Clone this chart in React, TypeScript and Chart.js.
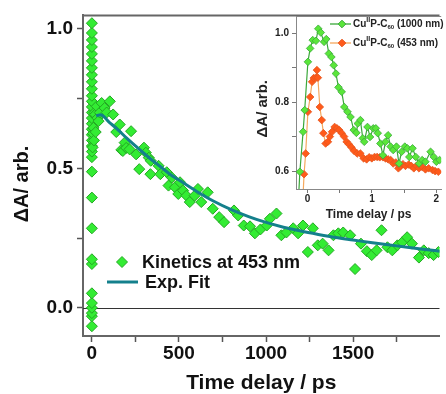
import React, { useEffect, useRef } from 'react';
import { Chart, registerables } from 'chart.js';

Chart.register(...registerables);

const FONT = '"Liberation Sans", Arial, Helvetica, sans-serif';

// ---------- main panel: kinetics at 453 nm ----------
const kineticsTime = [
  0, 0, 0, 0, 0, 0, 0, 0, 0, 0, 0, 0, 0, 0, 0, 0, 0, 0, 0, 0, 0, 0, 0, 0, 0, 0, 0, 0, 0, 0, 0, 0, 0,
  4, 6, 9, 12, 15, 19, 22, 28, 32, 38, 45, 56, 73, 85, 103, 122, 140, 160, 169, 178, 188, 197, 216,
  225, 254, 272, 299, 310, 327, 338, 336, 383, 393, 430, 440, 459, 477, 496, 506, 524, 543, 562,
  590, 609, 628, 665, 694, 731, 759, 816, 840, 872, 908, 936, 968, 1004, 1022, 1060, 1088, 1117,
  1156, 1184, 1212, 1240, 1269, 1297, 1325, 1359, 1387, 1415, 1443, 1483, 1511, 1545, 1579, 1607,
  1635, 1663, 1697, 1725, 1754, 1782, 1810, 1838, 1878, 1906, 1934, 1962, 1990,
];
const kineticsValue = [
  -0.066, -0.03, -0.019, 0.0, 0.017, 0.052, 0.157, 0.174, 0.285, 0.395, 0.488, 0.54, 0.56, 0.58,
  0.6, 0.62, 0.64, 0.66, 0.68, 0.7, 0.72, 0.74, 0.76, 0.785, 0.81, 0.835, 0.86, 0.885, 0.91, 0.935,
  0.96, 0.985, 1.02,
  0.575, 0.625, 0.645, 0.6, 0.7, 0.693, 0.63, 0.722, 0.68, 0.669, 0.7, 0.734, 0.716, 0.7, 0.74,
  0.693, 0.63, 0.657, 0.566, 0.562, 0.592, 0.573, 0.568, 0.633, 0.55, 0.497, 0.574, 0.556, 0.538,
  0.527, 0.479, 0.509, 0.479, 0.486, 0.438, 0.467, 0.432, 0.408, 0.45, 0.42, 0.402, 0.379, 0.402,
  0.426, 0.379, 0.414, 0.355, 0.325, 0.307, 0.349, 0.331, 0.295, 0.292, 0.267, 0.281, 0.295, 0.319,
  0.338, 0.26, 0.27, 0.285, 0.267, 0.295, 0.2, 0.285, 0.224, 0.23, 0.206, 0.26, 0.267, 0.27, 0.26,
  0.139, 0.23, 0.203, 0.189, 0.206, 0.278, 0.217, 0.206, 0.224, 0.235, 0.253, 0.23, 0.18, 0.206,
  0.196, 0.189, 0.2,
];
const fitTime = [25, 50, 100, 150, 200, 250, 300, 350, 400, 450, 500, 600, 700, 800, 900, 1000, 1100, 1200, 1300, 1400, 1500, 1600, 1700, 1800, 1900, 2000];
const fitValue = [0.688, 0.692, 0.665, 0.638, 0.608, 0.58, 0.553, 0.527, 0.503, 0.478, 0.458, 0.418, 0.382, 0.352, 0.327, 0.306, 0.289, 0.275, 0.263, 0.252, 0.243, 0.234, 0.226, 0.218, 0.21, 0.203];

const mainXTicks = [0, 250, 500, 750, 1000, 1250, 1500, 1750];
const mainXLabels = ['0', '', '500', '', '1000', '', '1500', ''];
const mainYTicks = [0, 0.25, 0.5, 0.75, 1.0];
const mainYLabels = ['0.0', '', '0.5', '', '1.0'];
const mainLegendLabels = ['Kinetics at 453 nm', 'Exp. Fit'];
const mainXTitle = 'Time delay / ps';
const mainYTitle = 'ΔA/ arb.   ';

// ---------- inset: early-time kinetics ----------
const insetTime1000 = [
  -0.16, -0.12, -0.07, -0.045, 0.005, 0.04, 0.08, 0.13, 0.166, 0.205, 0.256, 0.29, 0.33, 0.37, 0.406,
  0.44, 0.48, 0.53, 0.57, 0.62, 0.667, 0.717, 0.757, 0.78, 0.82, 0.857, 0.88, 0.93, 0.97, 1.02, 1.06,
  1.09, 1.13, 1.17, 1.21, 1.25, 1.29, 1.33, 1.38, 1.42, 1.46, 1.51, 1.55, 1.58, 1.63, 1.68, 1.73, 1.78,
  1.83, 1.91, 1.96, 2.0, 2.05,
];
const insetValue1000 = [
  0.45, 0.598, 0.714, 0.777, 0.917, 0.956, 0.98, 0.978, 1.013, 1.002, 0.975, 0.983, 0.941, 0.931,
  0.907, 0.883, 0.843, 0.83, 0.786, 0.772, 0.757, 0.719, 0.711, 0.738, 0.748, 0.695, 0.685, 0.728,
  0.699, 0.724, 0.724, 0.71, 0.68, 0.646, 0.685, 0.704, 0.671, 0.661, 0.671, 0.622, 0.656, 0.671,
  0.666, 0.641, 0.666, 0.641, 0.622, 0.632, 0.627, 0.656, 0.641, 0.627, 0.632,
];
const insetTime453 = [
  -0.09, -0.055, -0.03, 0.005, 0.04, 0.07, 0.095, 0.13, 0.145, 0.16, 0.19, 0.22, 0.245, 0.28, 0.316,
  0.346, 0.38, 0.42, 0.456, 0.49, 0.53, 0.567, 0.606, 0.64, 0.68, 0.72, 0.77, 0.82, 0.87, 0.917,
  0.957, 0.997, 1.04, 1.08, 1.12, 1.17, 1.21, 1.25, 1.29, 1.33, 1.37, 1.41, 1.44, 1.48, 1.52, 1.57,
  1.61, 1.65, 1.69, 1.73, 1.78, 1.83, 1.88, 1.94, 1.98, 2.03,
];
const insetValue453 = [
  0.45, 0.591, 0.651, 0.772, 0.815, 0.859, 0.87, 0.871, 0.893, 0.871, 0.786, 0.748, 0.71, 0.68,
  0.685, 0.7, 0.714, 0.728, 0.724, 0.719, 0.71, 0.7, 0.685, 0.678, 0.669, 0.659, 0.651, 0.651,
  0.637, 0.634, 0.64, 0.637, 0.641, 0.641, 0.64, 0.64, 0.637, 0.634, 0.632, 0.622, 0.625, 0.608,
  0.614, 0.62, 0.615, 0.619, 0.615, 0.608, 0.615, 0.608, 0.612, 0.605, 0.608, 0.603, 0.6, 0.598,
];
const insetXTicks = [0, 0.5, 1, 1.5, 2];
const insetXLabels = ['0', '', '1', '', '2'];
const insetYTicks = [0.6, 0.7, 0.8, 0.9, 1.0];
const insetYLabels = ['0.6', '', '0.8', '', '1.0'];
const insetXTitle = 'Time delay / ps';
const insetYTitle = 'ΔA/ arb.   ';
// legend label pieces: [text, kind] where kind: n = normal, sup = superscript, sub = subscript
const insetLegend1000: [string, string][] = [['Cu', 'n'], ['II', 'sup'], ['P-C', 'n'], ['60', 'sub'], [' (1000 nm)', 'n']];
const insetLegend453: [string, string][] = [['Cu', 'n'], ['II', 'sup'], ['P-C', 'n'], ['60', 'sub'], [' (453 nm)', 'n']];

const GREEN_FILL = '#33ec33';
const GREEN_EDGE = '#23a823';
const FIT_COLOR = '#14808c';

function zip(xs: number[], ys: number[]) {
  return xs.map((x, i) => ({ x, y: ys[i] }));
}

function diamond(ctx: CanvasRenderingContext2D, x: number, y: number, r: number, fill: string, stroke: string) {
  ctx.beginPath();
  ctx.moveTo(x - r, y);
  ctx.lineTo(x, y - r);
  ctx.lineTo(x + r, y);
  ctx.lineTo(x, y + r);
  ctx.closePath();
  ctx.fillStyle = fill;
  ctx.fill();
  ctx.lineWidth = 1;
  ctx.strokeStyle = stroke;
  ctx.stroke();
}

const mainDecor = {
  id: 'mainDecor',
  beforeDatasetsDraw(chart: any) {
    const { ctx, chartArea, scales } = chart;
    const y0 = Math.round(scales.y.getPixelForValue(0)) + 0.5;
    ctx.save();
    ctx.strokeStyle = '#333';
    ctx.lineWidth = 1;
    ctx.beginPath();
    ctx.moveTo(chartArea.left, y0);
    ctx.lineTo(chartArea.right, y0);
    ctx.stroke();
    ctx.restore();
  },
  afterDraw(chart: any) {
    const { ctx, chartArea } = chart;
    ctx.save();
    ctx.strokeStyle = '#666';
    ctx.lineWidth = 2;
    ctx.beginPath();
    ctx.moveTo(chartArea.left - 1, chartArea.top);
    ctx.lineTo(chartArea.right, chartArea.top);
    ctx.stroke();
    // legend
    const lx = chartArea.left;
    const by = chartArea.bottom;
    diamond(ctx, lx + 39, by - 74, 5.5, GREEN_FILL, GREEN_EDGE);
    ctx.fillStyle = '#111';
    ctx.font = `bold 18px ${FONT}`;
    ctx.textBaseline = 'middle';
    ctx.textAlign = 'left';
    ctx.fillText(mainLegendLabels[0], lx + 59, by - 73);
    ctx.strokeStyle = FIT_COLOR;
    ctx.lineWidth = 3;
    ctx.beginPath();
    ctx.moveTo(lx + 24, by - 54);
    ctx.lineTo(lx + 55, by - 54);
    ctx.stroke();
    ctx.fillText(mainLegendLabels[1], lx + 62, by - 53);
    ctx.restore();
  },
};

function drawRich(ctx: CanvasRenderingContext2D, parts: [string, string][], x: number, y: number) {
  let cx = x;
  for (const [t, kind] of parts) {
    if (kind === 'sup') {
      ctx.font = `bold 7px ${FONT}`;
      ctx.fillText(t, cx, y - 4);
    } else if (kind === 'sub') {
      ctx.font = `bold 6px ${FONT}`;
      ctx.fillText(t, cx, y + 3);
    } else {
      ctx.font = `bold 10px ${FONT}`;
      ctx.fillText(t, cx, y);
    }
    cx += ctx.measureText(t).width;
  }
}

const insetDecor = {
  id: 'insetDecor',
  afterDraw(chart: any) {
    const { ctx, chartArea } = chart;
    ctx.save();
    ctx.strokeStyle = '#888';
    ctx.lineWidth = 1;
    ctx.beginPath();
    ctx.moveTo(chartArea.left, chartArea.top + 0.5);
    ctx.lineTo(chartArea.right, chartArea.top + 0.5);
    ctx.stroke();
    const ds = chart.data.datasets;
    const rows = [insetLegend1000, insetLegend453];
    rows.forEach((parts, i) => {
      const y = chartArea.top + 8 + i * 19;
      const x0 = chartArea.left + 34;
      ctx.strokeStyle = ds[i].borderColor;
      ctx.lineWidth = 1.3;
      ctx.beginPath();
      ctx.moveTo(x0, y);
      ctx.lineTo(x0 + 21, y);
      ctx.stroke();
      diamond(ctx, x0 + 12, y, 3.8, ds[i].pointBackgroundColor, ds[i].pointBorderColor);
      ctx.fillStyle = '#222';
      ctx.textBaseline = 'middle';
      ctx.textAlign = 'left';
      drawRich(ctx, parts, x0 + 23, y);
    });
    ctx.restore();
  },
};

export default function App() {
  const mainRef = useRef<HTMLCanvasElement>(null);
  const insetRef = useRef<HTMLCanvasElement>(null);

  useEffect(() => {
    Chart.defaults.font.family = FONT;
    const main = new Chart(mainRef.current!, {
      type: 'scatter',
      data: {
        datasets: [
          {
            label: mainLegendLabels[1],
            data: zip(fitTime, fitValue),
            showLine: true,
            borderColor: FIT_COLOR,
            borderWidth: 3,
            pointRadius: 0,
            cubicInterpolationMode: 'monotone',
            order: 0,
          } as any,
          {
            label: mainLegendLabels[0],
            data: zip(kineticsTime, kineticsValue),
            pointStyle: 'rectRot',
            pointRadius: 5.5,
            pointBackgroundColor: GREEN_FILL,
            pointBorderColor: GREEN_EDGE,
            pointBorderWidth: 1,
            showLine: false,
            order: 1,
          } as any,
        ],
      },
      options: {
        responsive: false,
        animation: false,
        layout: { padding: { top: 13, right: 0, left: 0, bottom: 0 } },
        plugins: { legend: { display: false }, tooltip: { enabled: false } },
        scales: {
          x: {
            type: 'linear',
            min: -51,
            max: 1996,
            afterBuildTicks: (s: any) => { s.ticks = mainXTicks.map((v) => ({ value: v })); },
            afterFit: (s: any) => { s.height = 58; },
            ticks: {
              autoSkip: false,
              maxRotation: 0,
              padding: 0,
              color: '#111',
              font: { size: 19, weight: 'bold' },
              callback: (_v: any, i: number) => mainXLabels[i],
            },
            grid: { drawOnChartArea: false, drawTicks: true, tickLength: 6, tickColor: '#555', tickWidth: 1.5 },
            border: { display: true, color: '#666', width: 2 },
            title: { display: true, text: mainXTitle, color: '#111', font: { size: 21, weight: 'bold', lineHeight: 1 }, padding: { top: 0, bottom: 0 } },
          },
          y: {
            type: 'linear',
            min: -0.101,
            max: 1.048,
            afterBuildTicks: (s: any) => { s.ticks = mainYTicks.map((v) => ({ value: v })); },
            afterFit: (s: any) => { s.width = 83; },
            ticks: {
              autoSkip: false,
              padding: 4,
              color: '#111',
              font: { size: 19, weight: 'bold' },
              callback: (_v: any, i: number) => mainYLabels[i],
            },
            grid: { drawOnChartArea: false, drawTicks: true, tickLength: 6, tickColor: '#555', tickWidth: 1.5 },
            border: { display: true, color: '#666', width: 2 },
            title: { display: true, text: mainYTitle, color: '#111', font: { size: 20, weight: 'bold', lineHeight: 1 }, padding: { top: 12, bottom: 0 } },
          },
        },
      },
      plugins: [mainDecor],
    });

    const inset = new Chart(insetRef.current!, {
      type: 'scatter',
      data: {
        datasets: [
          {
            label: '1000 nm',
            data: zip(insetTime1000, insetValue1000),
            showLine: true,
            borderColor: '#3aa83a',
            borderWidth: 1.2,
            pointStyle: 'rectRot',
            pointRadius: 3.8,
            pointBackgroundColor: '#5ae63a',
            pointBorderColor: '#3aa83a',
            pointBorderWidth: 0.8,
          } as any,
          {
            label: '453 nm',
            data: zip(insetTime453, insetValue453),
            showLine: true,
            borderColor: '#f5a85e',
            borderWidth: 1.2,
            pointStyle: 'rectRot',
            pointRadius: 3.8,
            pointBackgroundColor: '#ff5a1a',
            pointBorderColor: '#e5561e',
            pointBorderWidth: 0.8,
          } as any,
        ],
      },
      options: {
        responsive: false,
        animation: false,
        layout: { padding: { top: 16, right: 0, left: 0, bottom: 0 } },
        plugins: { legend: { display: false }, tooltip: { enabled: false } },
        scales: {
          x: {
            type: 'linear',
            min: -0.18,
            max: 2.075,
            afterBuildTicks: (s: any) => { s.ticks = insetXTicks.map((v) => ({ value: v })); },
            afterFit: (s: any) => { s.height = 43; },
            ticks: {
              autoSkip: false,
              maxRotation: 0,
              padding: 0,
              color: '#222',
              font: { size: 10, weight: 'bold' },
              callback: (_v: any, i: number) => insetXLabels[i],
            },
            grid: { drawOnChartArea: false, drawTicks: true, tickLength: 4, tickColor: '#777', tickWidth: 1 },
            border: { display: true, color: '#888', width: 1 },
            title: { display: true, text: insetXTitle, color: '#222', font: { size: 12, weight: 'bold', lineHeight: 1 }, padding: { top: 0, bottom: 11 } },
          },
          y: {
            type: 'linear',
            min: 0.548,
            max: 1.05,
            afterBuildTicks: (s: any) => { s.ticks = insetYTicks.map((v) => ({ value: v })); },
            afterFit: (s: any) => { s.width = 66; },
            ticks: {
              autoSkip: false,
              padding: 3,
              color: '#222',
              font: { size: 10, weight: 'bold' },
              callback: (_v: any, i: number) => insetYLabels[i],
            },
            grid: { drawOnChartArea: false, drawTicks: true, tickLength: 4, tickColor: '#777', tickWidth: 1 },
            border: { display: true, color: '#888', width: 1 },
            title: { display: true, text: insetYTitle, color: '#222', font: { size: 15, weight: 'bold', lineHeight: 1 }, padding: { top: 25, bottom: 0 } },
          },
        },
      },
      plugins: [insetDecor],
    });

    return () => {
      main.destroy();
      inset.destroy();
    };
  }, []);

  return (
    <div style={{ position: 'fixed', left: 0, top: 0, width: 446, height: 394, background: '#fff', overflow: 'hidden' }}>
      <canvas ref={mainRef} width={446} height={394} style={{ position: 'absolute', left: 0, top: 0, width: 446, height: 394 }} />
      <canvas ref={insetRef} width={216} height={232} style={{ position: 'absolute', left: 230, top: 0, width: 216, height: 232 }} />
    </div>
  );
}
